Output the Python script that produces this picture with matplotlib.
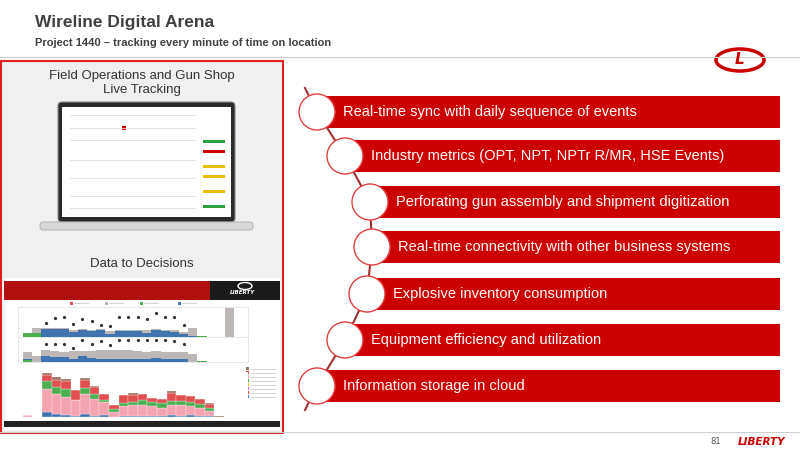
import matplotlib
matplotlib.use("Agg")
import matplotlib.pyplot as plt
from matplotlib.patches import Rectangle, Circle, Ellipse, FancyBboxPatch
import numpy as np

title = "Wireline Digital Arena"
subtitle = "Project 1440 \u2013 tracking every minute of time on location"
items = ["Real-time sync with daily sequence of events",
         "Industry metrics (OPT, NPT, NPTr R/MR, HSE Events)",
         "Perforating gun assembly and shipment digitization",
         "Real-time connectivity with other business systems",
         "Explosive inventory consumption",
         "Equipment efficiency and utilization",
         "Information storage in cloud"]
panel_top = "Field Operations and Gun Shop\nLive Tracking"
panel_mid = "Data to Decisions"
page = "81"

# dashboard data (approximate)
day_blue1 = [0, 0, 0.55, 0.55, 0.55, 0.35, 0.5, 0.45, 0.5, 0.2, 0.45, 0.45, 0.4, 0.3, 0.5, 0.4, 0.35, 0.2, 0.05, 0, 0, 0, 0, 0]
day_gray1 = [0, 0.35, 0.05, 0.05, 0.05, 0.15, 0.05, 0.05, 0.05, 0.2, 0.05, 0.05, 0.1, 0.2, 0.05, 0.1, 0.15, 0.15, 0.6, 0, 0, 0, 2.0, 0]
day_green1 = [0.3, 0.25, 0, 0, 0, 0, 0, 0, 0, 0, 0, 0, 0, 0, 0, 0, 0, 0, 0, 0.05, 0, 0, 0, 0]
dots1 = [np.nan, np.nan, 1.0, 1.3, 1.4, 0.9, 1.25, 1.1, 0.85, 0.75, 1.4, 1.4, 1.4, 1.25, 1.7, 1.4, 1.4, 0.85, np.nan, np.nan, np.nan, np.nan, np.nan, np.nan]
day_blue2 = [0.1, 0, 0.45, 0.35, 0.35, 0.25, 0.4, 0.3, 0.25, 0.2, 0.25, 0.25, 0.2, 0.2, 0.3, 0.25, 0.25, 0.25, 0, 0, 0, 0, 0, 0]
day_gray2 = [0.5, 0.4, 0.45, 0.45, 0.4, 0.55, 0.4, 0.5, 0.6, 0.65, 0.6, 0.6, 0.6, 0.55, 0.5, 0.5, 0.45, 0.45, 0.55, 0, 0, 0, 0, 0]
day_green2 = [0.15, 0, 0, 0, 0, 0, 0, 0, 0, 0, 0, 0, 0, 0, 0, 0, 0, 0, 0, 0.05, 0, 0, 0, 0]
dots2 = [np.nan, np.nan, 1.3, 1.3, 1.3, 1.0, 1.6, 1.3, 1.5, 1.2, 1.6, 1.6, 1.6, 1.6, 1.6, 1.6, 1.5, 1.3, np.nan, np.nan, np.nan, np.nan, np.nan, np.nan]
stage_blue = [20, 0, 280, 150, 120, 60, 160, 70, 120, 0, 40, 60, 60, 60, 50, 80, 60, 90, 40, 30, 0, 0, 0]
stage_pink = [60, 0, 1150, 1050, 900, 800, 1000, 850, 650, 280, 500, 530, 550, 480, 430, 550, 530, 490, 420, 290, 0, 0, 0]
stage_green = [0, 0, 400, 350, 400, 0, 300, 250, 100, 150, 200, 200, 250, 250, 250, 200, 250, 200, 200, 150, 0, 0, 0]
stage_red = [0, 0, 300, 350, 400, 500, 450, 350, 300, 180, 400, 350, 300, 200, 200, 400, 300, 300, 250, 200, 0, 0, 0]
stage_brown = [30, 0, 100, 150, 100, 0, 100, 80, 0, 0, 0, 100, 0, 0, 0, 80, 0, 0, 0, 50, 30, 0, 0]

RED = "#cc0000"
fig = plt.figure(figsize=(8, 4.5), dpi=100)
fig.patch.set_facecolor("white")
ax = fig.add_axes([0, 0, 1, 1])
ax.set_xlim(0, 800); ax.set_ylim(450, 0); ax.axis("off")

ax.text(35, 22, title, fontsize=12.5, fontweight="bold", color="#404040", va="center", family="Liberation Sans")
ax.text(35, 43, subtitle, fontsize=8, fontweight="bold", color="#404040", va="center", family="Liberation Sans")
ax.plot([0, 800], [57, 57], color="#d0d0d0", lw=0.8)
# logo top right
ax.add_patch(Ellipse((740, 60), 48, 22, facecolor="white", edgecolor=RED, lw=2.5))
ax.text(740, 60, "L", fontsize=11, fontweight="bold", color=RED, ha="center", va="center", style="italic")

# left panel
ax.add_patch(Rectangle((1, 61), 282, 372, facecolor="#f0f0f0", edgecolor="#e02020", lw=1.5))
ax.text(142, 83, panel_top, fontsize=9.5, color="#333333", ha="center", va="center", family="Liberation Sans")
ax.text(142, 264, panel_mid, fontsize=9.5, color="#333333", ha="center", va="center", family="Liberation Sans")
# laptop
ax.add_patch(FancyBboxPatch((58, 102), 177, 120, boxstyle="round,pad=0,rounding_size=4", facecolor="#2a2a2a", edgecolor="#888", lw=0.8))
ax.add_patch(Rectangle((62, 107), 169, 110, facecolor="white", edgecolor="none"))
ax.add_patch(FancyBboxPatch((40, 222), 213, 8, boxstyle="round,pad=0,rounding_size=3", facecolor="#d8d8d8", edgecolor="#aaa", lw=0.6))
for yy in [115, 128, 140, 160, 178, 196, 208]:
    ax.plot([70, 195], [yy, yy], color="#dddddd", lw=0.6)
for yy, c in [(140, "#2e9e3e"), (150, "#cc0000"), (165, "#e6c000"), (175, "#e6c000"), (190, "#e6c000"), (205, "#2e9e3e")]:
    ax.add_patch(Rectangle((203, yy), 22, 3, facecolor=c))
ax.add_patch(Rectangle((122, 126), 4, 4, facecolor=RED))

# dashboard
ax.add_patch(Rectangle((4, 278), 276, 152, facecolor="white", edgecolor="none"))
ax.add_patch(Rectangle((4, 281), 276, 19, facecolor="#b01010", edgecolor="none"))
ax.add_patch(Rectangle((210, 281), 70, 19, facecolor="#1a1a1a", edgecolor="none"))
ax.text(243, 294, "LIBERTY", fontsize=4, color="white", ha="center", fontweight="bold", style="italic")
ax.add_patch(Ellipse((245, 286), 14, 7, facecolor="none", edgecolor="white", lw=1))
ax.add_patch(Rectangle((4, 421), 276, 6, facecolor="#222222", edgecolor="none"))
for xx, c in [(70, "#e05050"), (105, "#bdb7b5"), (140, "#4caf50"), (178, "#3f74b0")]:
    ax.add_patch(Rectangle((xx, 302), 2.5, 2.5, facecolor=c))
    ax.plot([xx + 4, xx + 18], [303.2, 303.2], color="#cccccc", lw=0.6)

def daypanel(rect, blue, gray, green, dots, ymax):
    a = fig.add_axes(rect)
    x = np.arange(len(blue))
    a.bar(x, green, width=1, color="#4caf50")
    a.bar(x, blue, bottom=green, width=1, color="#3f74b0")
    a.bar(x, gray, bottom=np.array(green) + np.array(blue), width=1, color="#bdb7b5")
    a.plot(x, dots, "o", ms=1.3, color="#333")
    a.set_xlim(-1, len(blue)); a.set_ylim(0, ymax)
    a.set_xticks([]); a.set_yticks([])
    for s in a.spines.values(): s.set_color("#dddddd"); s.set_linewidth(0.5)
    return a

daypanel([18/800, 1 - 337/450, 230/800, 30/450], day_blue1, day_gray1, day_green1, dots1, 2.1)
daypanel([18/800, 1 - 362/450, 230/800, 25/450], day_blue2, day_gray2, day_green2, dots2, 1.8)
a3 = fig.add_axes([18/800, 1 - 417/450, 230/800, 45/450])
x = np.arange(len(stage_blue))
bot = np.zeros(len(x))
for vals, c in [(stage_blue, "#3f74b0"), (stage_pink, "#f4a3b0"), (stage_green, "#4caf50"), (stage_red, "#e05050"), (stage_brown, "#9a7060")]:
    a3.bar(x, vals, bottom=bot, width=1, color=c, edgecolor="white", lw=0.2)
    bot += np.array(vals)
a3.set_xlim(-1, len(x)); a3.set_ylim(0, 2300)
a3.set_xticks([]); a3.set_yticks([])
for s in a3.spines.values(): s.set_visible(False)
for i, c in enumerate(["#9a7060", "#e05050", "#f4a3b0", "#4caf50", "#e6c000", "#c070c0", "#e05050", "#3f74b0"]):
    ax.add_patch(Rectangle((246, 367 + i * 4), 3, 2.5, facecolor=c))
    ax.plot([251, 275], [368.5 + i * 4] * 2, color="#cccccc", lw=0.6)

# right list
centers = [(317, 112), (345, 156), (370, 202), (372, 247), (367, 294), (345, 340), (317, 386)]
cx = [c[0] for c in centers]; cy = [c[1] for c in centers]
ax.plot([305] + cx + [305], [88] + cy + [410], color="#a03030", lw=1.5, zorder=1)
for (x0, y0), t in zip(centers, items):
    ax.add_patch(Rectangle((x0, y0 - 16), 780 - x0, 32, facecolor=RED, edgecolor="none", zorder=2))
    ax.add_patch(Circle((x0, y0), 18, facecolor="white", edgecolor="#e04040", lw=1, zorder=3))
    ax.text(x0 + 26, y0, t, fontsize=10.5, color="white", va="center", family="Liberation Sans", zorder=4)

# footer
ax.plot([0, 800], [432, 432], color="#d0d0d0", lw=0.8)
ax.text(716, 442, page, fontsize=6, color="#555", ha="center", va="center")
ax.text(762, 442, "LIBERTY", fontsize=7.5, color=RED, ha="center", va="center", fontweight="bold", style="italic")

fig.savefig("out.png", dpi=100)
